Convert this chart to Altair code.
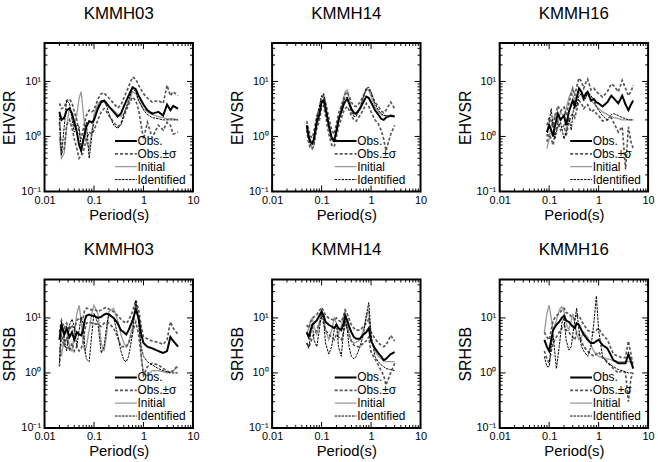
import altair as alt
import pandas as pd

SERIES = ["Obs.", "Obs.±σ", "Initial", "Identified"]
COLORS = ["#000000", "#555555", "#9a9a9a", "#000000"]
DASHES = [[1, 0], [3, 2], [1, 0], [2.5, 1]]
WIDTHS = [2.0, 1.0, 1.2, 2.6]

XMAJ = [0.01, 0.1, 1, 10]
XMIN = [0.02, 0.03, 0.04, 0.05, 0.06, 0.07, 0.08, 0.09,
        0.2, 0.3, 0.4, 0.5, 0.6, 0.7, 0.8, 0.9,
        2, 3, 4, 5, 6, 7, 8, 9]
YMAJ = [0.1, 1, 10]
YMIN = [0.2, 0.3, 0.4, 0.5, 0.6, 0.7, 0.8, 0.9,
        2, 3, 4, 5, 6, 7, 8, 9, 20, 30, 40]

# ---------------- KMMH03 EHVSR ----------------
p_03e = [0.02, 0.022, 0.025, 0.028, 0.032, 0.036, 0.04, 0.045, 0.05, 0.055,
         0.06, 0.07, 0.08, 0.09, 0.1, 0.12, 0.14, 0.16, 0.18, 0.2,
         0.25, 0.3, 0.35, 0.4, 0.5, 0.6, 0.7, 0.8, 1.0, 1.2,
         1.5, 2.0, 2.5, 3.0, 3.5, 4.0, 5.0]
obs_03e = [2.8, 2.0, 2.2, 3.0, 3.2, 2.6, 1.8, 1.2, 0.7, 0.55,
           0.8, 1.5, 1.9, 1.8, 2.0, 3.2, 4.2, 4.5, 4.0, 3.5,
           2.8, 2.3, 2.6, 3.5, 5.5, 7.8, 7.2, 5.5, 3.8, 3.0,
           2.6, 2.8, 2.4, 3.8, 3.0, 3.6, 3.2]
up_03e = [4.0, 3.2, 3.4, 4.5, 4.8, 4.0, 2.8, 2.0, 1.2, 0.9,
          1.3, 2.4, 3.0, 2.8, 3.0, 4.8, 6.0, 6.2, 5.5, 5.0,
          4.0, 3.3, 3.7, 5.0, 8.0, 12.0, 11.0, 8.5, 6.0, 5.0,
          4.2, 4.5, 4.0, 8.5, 5.5, 6.5, 5.5]
lo_03e = [1.8, 0.5, 0.6, 1.6, 2.0, 1.4, 0.9, 0.6, 0.4, 0.45,
          0.5, 0.9, 1.2, 1.1, 1.3, 2.0, 2.8, 3.2, 2.8, 2.4,
          1.8, 1.5, 1.7, 2.3, 3.8, 5.2, 4.5, 3.0, 0.9, 1.8,
          0.95, 1.6, 1.3, 1.8, 1.6, 1.1, 1.2]
ini_03e = [1.0, 0.4, 0.5, 1.5, 3.5, 2.5, 1.5, 2.5, 5.0, 6.5,
           3.0, 0.8, 0.6, 1.2, 2.5, 4.0, 4.5, 4.2, 3.8, 3.5,
           3.0, 2.5, 2.3, 2.6, 4.0, 6.5, 6.0, 4.5, 3.2, 2.8,
           2.5, 2.3, 2.2, 2.1, 2.1, 2.1, 2.0]
idf_03e = [2.5, 0.45, 1.5, 4.5, 4.0, 2.0, 1.2, 1.6, 1.5, 0.6,
           0.9, 1.8, 0.4, 1.0, 2.0, 3.5, 4.5, 4.5, 3.5, 2.6,
           1.6, 1.4, 1.6, 2.5, 4.5, 7.5, 6.5, 4.5, 3.0, 2.5,
           2.2, 2.1, 2.0, 2.0, 2.0, 2.0, 2.0]

# ---------------- KMMH14 EHVSR ----------------
p_14e = [0.05, 0.055, 0.06, 0.065, 0.07, 0.075, 0.08, 0.09, 0.1, 0.11,
         0.12, 0.14, 0.16, 0.18, 0.2, 0.22, 0.25, 0.28, 0.3, 0.33,
         0.36, 0.4, 0.45, 0.5, 0.6, 0.7, 0.8, 0.9, 1.0, 1.2,
         1.4, 1.6, 1.8, 2.0, 2.5, 3.0]
obs_14e = [1.6, 1.0, 0.8, 0.75, 0.9, 1.3, 1.8, 2.5, 4.2, 4.5,
           3.2, 1.6, 0.95, 0.85, 1.3, 2.0, 2.8, 3.8, 4.3, 4.8,
           4.0, 3.2, 2.7, 2.6, 3.2, 4.2, 5.3, 5.0, 4.2, 3.0,
           2.5, 2.1, 2.0, 2.2, 2.4, 2.3]
up_14e = [1.9, 1.3, 1.0, 0.95, 1.2, 1.7, 2.3, 3.2, 5.0, 5.6,
          4.2, 2.2, 1.3, 1.1, 1.7, 2.6, 3.6, 5.0, 5.8, 6.5,
          5.4, 4.2, 3.6, 3.5, 4.2, 5.5, 7.0, 7.2, 6.0, 4.2,
          3.5, 2.9, 2.7, 3.0, 4.2, 3.2]
lo_14e = [1.3, 0.75, 0.6, 0.6, 0.7, 1.0, 1.4, 1.9, 3.4, 3.6,
          2.4, 1.1, 0.7, 0.65, 1.0, 1.5, 2.1, 2.9, 3.2, 3.5,
          3.0, 2.4, 2.0, 1.9, 2.4, 3.1, 4.0, 3.5, 2.8, 2.0,
          1.7, 1.3, 0.9, 0.55, 1.1, 1.6]
ini_14e = [1.4, 1.0, 0.7, 0.6, 0.7, 1.1, 1.6, 2.4, 4.0, 5.0,
           3.8, 1.6, 0.9, 0.8, 1.1, 1.8, 3.0, 5.0, 6.5, 7.0,
           5.0, 3.2, 2.5, 2.5, 3.5, 5.5, 7.5, 7.0, 5.5, 3.5,
           2.8, 2.5, 2.4, 2.4, 2.3, 2.3]
idf_14e = [1.5, 0.9, 0.7, 0.7, 0.9, 1.4, 2.2, 3.5, 5.5, 6.0,
           4.0, 1.5, 0.85, 0.8, 1.2, 2.0, 3.2, 4.5, 5.0, 5.2,
           4.0, 2.8, 2.3, 2.3, 3.2, 5.0, 7.5, 7.8, 6.5, 4.0,
           3.0, 2.6, 2.4, 2.4, 2.3, 2.3]

# ---------------- KMMH16 EHVSR ----------------
p_16e = [0.09, 0.1, 0.11, 0.12, 0.13, 0.15, 0.17, 0.2, 0.22, 0.25,
         0.28, 0.3, 0.33, 0.36, 0.4, 0.45, 0.5, 0.55, 0.6, 0.7,
         0.8, 0.9, 1.0, 1.2, 1.5, 1.8, 2.0, 2.5, 3.0, 3.5,
         4.0, 4.5, 5.0]
obs_16e = [1.2, 1.6, 1.3, 1.0, 1.5, 2.6, 2.0, 2.4, 1.6, 2.8,
           3.8, 4.5, 3.5, 5.0, 7.5, 6.5, 5.0, 6.0, 6.5, 4.5,
           4.8, 4.2, 4.0, 3.5, 4.2, 5.5, 5.0, 4.0, 5.5, 3.8,
           3.0, 3.8, 4.5]
up_16e = [1.6, 2.2, 1.9, 1.5, 2.1, 3.6, 2.9, 3.4, 2.4, 4.0,
          6.0, 7.5, 5.5, 8.0, 11.5, 10.0, 7.5, 9.5, 11.0, 7.0,
          7.5, 6.5, 6.0, 5.2, 6.5, 9.0, 8.5, 6.5, 10.5, 7.5,
          5.5, 6.5, 8.5]
lo_16e = [0.8, 1.1, 0.9, 0.7, 1.0, 1.8, 1.3, 1.6, 1.0, 1.8,
          2.4, 2.6, 2.2, 3.0, 4.5, 4.0, 3.2, 3.6, 3.8, 2.8,
          3.0, 2.6, 2.4, 1.9, 2.0, 2.2, 1.8, 1.2, 1.5, 0.25,
          1.5, 0.8, 0.6]
ini_16e = [0.6, 0.9, 1.6, 2.0, 2.5, 1.8, 2.8, 2.2, 3.2, 5.0,
           6.5, 5.5, 4.8, 5.5, 6.5, 5.5, 4.5, 5.2, 6.0, 4.5,
           4.0, 3.5, 3.2, 2.8, 2.5, 2.3, 2.2, 2.1, 2.0, 2.0,
           2.0, 2.0, 2.0]
idf_16e = [1.0, 1.8, 3.2, 1.5, 0.9, 1.5, 1.8, 0.9, 1.2, 2.2,
           1.3, 2.5, 4.5, 3.5, 5.5, 6.0, 4.5, 5.0, 6.5, 5.5,
           4.5, 3.5, 3.0, 2.4, 2.0, 2.5, 2.6, 2.4, 2.2, 2.1,
           2.0, 2.0, 2.0]

# ---------------- KMMH03 SRHSB ----------------
p_03s = [0.02, 0.022, 0.025, 0.028, 0.032, 0.036, 0.04, 0.045, 0.05, 0.055,
         0.06, 0.065, 0.07, 0.08, 0.09, 0.1, 0.12, 0.14, 0.16, 0.18,
         0.2, 0.25, 0.3, 0.35, 0.4, 0.45, 0.5, 0.6, 0.7, 0.8,
         0.9, 1.0, 1.2, 1.5, 2.0, 2.5, 3.0, 3.5, 4.0, 5.0]
obs_03s = [4.0, 7.5, 5.0, 6.5, 4.5, 5.5, 4.0, 5.5, 5.0, 4.8,
           6.0, 9.0, 11.0, 11.5, 11.0, 11.0, 10.0, 10.5, 11.5, 12.0,
           11.5, 10.0, 8.0, 6.0, 5.5, 5.0, 6.0, 9.0, 14.0, 10.0,
           5.0, 3.5, 3.0, 2.8, 2.5, 2.3, 2.5, 4.5, 3.8, 3.0]
up_03s = [5.5, 9.0, 6.5, 8.0, 6.0, 7.5, 6.0, 9.0, 10.0, 9.0,
          10.0, 14.0, 15.0, 14.5, 14.0, 14.5, 13.0, 14.0, 15.0, 15.5,
          14.5, 13.0, 11.0, 9.5, 8.5, 8.0, 9.0, 13.0, 21.0, 14.0,
          7.0, 4.5, 4.2, 3.8, 3.6, 3.3, 4.0, 8.5, 6.5, 5.0]
lo_03s = [1.3, 5.0, 3.0, 4.5, 2.5, 3.5, 2.5, 3.0, 2.5, 2.8,
          3.5, 6.0, 8.0, 8.5, 8.0, 8.0, 7.5, 7.0, 8.0, 8.5,
          8.0, 6.5, 4.5, 3.0, 3.0, 3.0, 3.5, 5.5, 8.5, 5.0,
          2.0, 0.9, 1.3, 1.5, 1.4, 1.2, 1.1, 1.0, 1.1, 1.4]
ini_03s = [3.0, 2.0, 4.5, 6.0, 3.0, 2.5, 5.0, 12.0, 17.0, 9.0,
           3.5, 2.5, 3.0, 6.0, 12.0, 17.0, 12.0, 3.5, 2.5, 5.0,
           13.0, 15.0, 9.0, 5.0, 3.5, 3.0, 3.5, 7.0, 20.0, 9.0,
           2.0, 0.95, 0.9, 1.1, 1.1, 1.05, 1.0, 1.05, 1.1, 1.3]
idf_03s = [1.5, 8.5, 4.0, 2.5, 7.5, 9.5, 7.0, 3.0, 6.0, 10.5,
           8.0, 3.0, 1.8, 1.6, 5.0, 12.0, 8.0, 2.3, 3.0, 7.0,
           12.0, 10.0, 5.0, 2.5, 1.7, 1.6, 2.0, 5.0, 21.0, 8.0,
           3.0, 2.0, 1.6, 1.4, 1.2, 1.1, 1.05, 1.0, 1.0, 1.0]

# ---------------- KMMH14 SRHSB ----------------
p_14s = [0.05, 0.055, 0.06, 0.065, 0.07, 0.08, 0.09, 0.1, 0.11, 0.12,
         0.14, 0.16, 0.18, 0.2, 0.22, 0.25, 0.28, 0.3, 0.33, 0.36,
         0.4, 0.45, 0.5, 0.6, 0.7, 0.8, 0.9, 1.0, 1.2, 1.4,
         1.6, 1.8, 2.0, 2.5, 3.0]
obs_14s = [5.5, 4.5, 6.0, 7.5, 8.0, 9.0, 11.0, 13.0, 11.0, 8.5,
           7.5, 7.0, 6.5, 7.5, 6.5, 6.0, 8.0, 11.0, 9.0, 7.0,
           5.5, 4.5, 4.2, 4.2, 5.0, 5.5, 6.5, 3.8, 2.8, 2.3,
           2.0, 1.7, 1.8, 2.2, 2.4]
up_14s = [7.5, 6.5, 8.5, 9.5, 10.5, 11.5, 13.5, 15.5, 13.5, 11.0,
          10.0, 9.5, 9.0, 10.0, 9.0, 8.5, 11.0, 14.0, 12.0, 9.5,
          7.5, 6.5, 6.0, 6.0, 7.0, 8.0, 9.5, 5.5, 4.2, 3.5,
          3.2, 3.0, 3.2, 4.8, 3.8]
lo_14s = [3.5, 3.0, 3.5, 4.5, 5.0, 6.0, 8.0, 10.0, 8.0, 6.0,
          5.0, 4.5, 4.0, 5.0, 4.5, 4.0, 5.5, 8.0, 6.5, 5.0,
          3.8, 3.2, 3.0, 3.0, 3.5, 3.8, 4.5, 2.4, 1.8, 1.4,
          1.1, 0.9, 0.6, 1.0, 1.5]
ini_14s = [5.0, 6.5, 9.0, 10.0, 7.0, 5.0, 8.0, 14.0, 11.0, 6.0,
           4.0, 6.0, 10.0, 8.0, 5.0, 7.0, 11.0, 13.5, 8.0, 5.0,
           3.8, 3.5, 3.6, 4.0, 6.0, 10.0, 14.0, 4.0, 2.5, 2.0,
           1.8, 1.7, 1.6, 1.6, 1.6]
idf_14s = [3.5, 2.8, 5.0, 8.0, 4.0, 3.0, 6.0, 12.0, 9.0, 3.5,
           2.2, 3.0, 6.0, 8.0, 3.0, 2.0, 6.0, 10.5, 6.0, 3.0,
           2.0, 1.8, 2.0, 3.0, 5.0, 11.0, 19.0, 5.0, 2.0, 1.6,
           1.4, 1.3, 1.2, 1.15, 1.1]

# ---------------- KMMH16 SRHSB ----------------
p_16s = [0.08, 0.09, 0.1, 0.11, 0.12, 0.14, 0.16, 0.18, 0.2, 0.22,
         0.25, 0.28, 0.3, 0.33, 0.36, 0.4, 0.45, 0.5, 0.6, 0.7,
         0.8, 0.9, 1.0, 1.2, 1.5, 2.0, 2.5, 3.0, 3.5, 4.0,
         4.5, 5.0]
obs_16s = [4.0, 3.0, 2.5, 4.0, 6.0, 7.5, 8.5, 10.0, 11.0, 9.0,
           8.5, 7.5, 7.0, 6.5, 8.0, 7.5, 6.0, 5.0, 4.0, 3.5,
           3.5, 3.8, 4.0, 3.2, 2.8, 1.7, 1.5, 1.5, 1.5, 2.2,
           1.6, 1.2]
up_16s = [5.5, 4.5, 4.0, 6.0, 9.0, 11.0, 12.0, 14.0, 15.0, 12.5,
          12.0, 10.5, 10.0, 9.5, 11.0, 11.0, 9.0, 7.5, 6.0, 5.5,
          5.5, 6.0, 6.5, 5.0, 4.0, 2.2, 2.0, 1.9, 1.9, 3.8,
          2.2, 1.3]
lo_16s = [2.5, 1.8, 1.5, 2.5, 3.5, 4.5, 5.5, 6.5, 7.5, 6.0,
          5.5, 4.8, 4.5, 4.0, 5.5, 5.0, 3.8, 3.0, 2.5, 2.2,
          2.0, 2.2, 2.4, 1.9, 1.6, 1.2, 1.0, 1.1, 1.0, 0.3,
          0.8, 1.0]
ini_16s = [5.5, 12.0, 17.0, 10.0, 6.0, 9.0, 14.0, 16.0, 13.0, 8.0,
           6.0, 9.0, 12.0, 8.0, 5.0, 4.0, 4.5, 5.5, 4.5, 3.2,
           2.5, 2.2, 2.0, 1.9, 1.8, 1.7, 1.6, 1.6, 1.6, 1.6,
           1.6, 1.6]
idf_16s = [2.0, 1.3, 1.3, 3.0, 5.0, 1.2, 3.0, 8.0, 10.0, 4.0,
           2.6, 3.0, 5.0, 9.0, 15.0, 6.0, 3.0, 2.5, 2.0, 3.0,
           8.0, 25.0, 6.0, 2.0, 1.5, 1.3, 1.15, 1.1, 1.05, 1.0,
           1.0, 1.0]


def long_df(p, obs, up, lo, ini, idf):
    rows = []
    for arr, s, b in [(ini, "Initial", "a"), (up, "Obs.±σ", "up"),
                      (lo, "Obs.±σ", "lo"), (idf, "Identified", "a"),
                      (obs, "Obs.", "a")]:
        for t, v in zip(p, arr):
            rows.append({"period": t, "value": v, "series": s, "branch": b})
    return pd.DataFrame(rows)


YLAB_EXPR = "datum.value == 0.1 ? '10\u207b\u00b9' : (datum.value == 1 ? '10\u2070' : '10\u00b9')"
W = 150
H = 150
XS = alt.Scale(type="log", domain=[0.01, 10])
YS = alt.Scale(type="log", domain=[0.1, 50])
XAXIS = alt.Axis(orient="bottom", values=XMAJ, format=".2~f",
                 title="Period(s)", ticks=False, tickSize=0,
                 domain=False, labelPadding=3, titlePadding=2,
                 labelFlush=False, labelOverlap=False, titleFontSize=15)


def yaxis(title):
    return alt.Axis(orient="left", values=YMAJ, labelExpr=YLAB_EXPR,
                    title=title, ticks=False, tickSize=0, domain=False,
                    labelPadding=4, titlePadding=3, labelFlush=False,
                    labelOverlap=False, titleFontSize=16)


def tick_layer(vals, ch, side, length, yax):
    d = pd.DataFrame({"t": vals})
    if ch == "x":
        enc = dict(x=alt.X("t:Q", scale=XS, axis=XAXIS))
        if side == "bottom":
            enc.update(y=alt.value(H), y2=alt.value(H - length))
        else:
            enc.update(y=alt.value(0), y2=alt.value(length))
    else:
        enc = dict(y=alt.Y("t:Q", scale=YS, axis=yax))
        if side == "left":
            enc.update(x=alt.value(0), x2=alt.value(length))
        else:
            enc.update(x=alt.value(W), x2=alt.value(W - length))
    return alt.Chart(d).mark_rule(color="black", strokeWidth=1).encode(**enc)


def panel(df, title, ylab, lx, toff):
    yax = yaxis(ylab)
    leg = alt.Legend(title=None, orient="none", legendX=lx, legendY=93)
    lines = alt.Chart(df).mark_line(clip=True).encode(
        x=alt.X("period:Q", scale=XS, axis=XAXIS),
        y=alt.Y("value:Q", scale=YS, axis=yax),
        color=alt.Color("series:N", scale=alt.Scale(domain=SERIES, range=COLORS), legend=leg),
        strokeDash=alt.StrokeDash("series:N", scale=alt.Scale(domain=SERIES, range=DASHES), legend=leg),
        strokeWidth=alt.StrokeWidth("series:N", scale=alt.Scale(domain=SERIES, range=WIDTHS), legend=leg),
        detail="branch:N",
    )
    layers = [lines]
    for side in ["bottom", "top"]:
        layers.append(tick_layer(XMAJ, "x", side, 6, yax))
        layers.append(tick_layer(XMIN, "x", side, 3, yax))
    for side in ["left", "right"]:
        layers.append(tick_layer(YMAJ, "y", side, 6, yax))
        layers.append(tick_layer(YMIN, "y", side, 3, yax))
    return alt.layer(*layers).properties(
        width=W, height=H, title=alt.TitleParams(title, offset=toff)
    )


panels = [
    panel(long_df(p_03e, obs_03e, up_03e, lo_03e, ini_03e, idf_03e), "KMMH03", "EHVSR", 81, 20),
    panel(long_df(p_14e, obs_14e, up_14e, lo_14e, ini_14e, idf_14e), "KMMH14", "EHVSR", 73, 20),
    panel(long_df(p_16e, obs_16e, up_16e, lo_16e, ini_16e, idf_16e), "KMMH16", "EHVSR", 81, 20),
    panel(long_df(p_03s, obs_03s, up_03s, lo_03s, ini_03s, idf_03s), "KMMH03", "SRHSB", 81, 20),
    panel(long_df(p_14s, obs_14s, up_14s, lo_14s, ini_14s, idf_14s), "KMMH14", "SRHSB", 73, 20),
    panel(long_df(p_16s, obs_16s, up_16s, lo_16s, ini_16s, idf_16s), "KMMH16", "SRHSB", 81, 20),
]

FONT = "Liberation Sans"

chart = alt.concat(
    *panels, columns=3, spacing={"row": 89, "column": 80}, bounds="flush"
).resolve_scale(
    color="independent", strokeDash="independent", strokeWidth="independent"
).properties(
    padding={"left": 1, "top": 1, "right": 2, "bottom": 2}, background="white"
).configure_view(
    stroke="black", strokeWidth=2
).configure_axis(
    grid=False, labelFont=FONT, labelFontSize=11, labelColor="black",
    titleFont=FONT, titleFontWeight="normal", titleColor="black"
).configure_title(
    font=FONT, fontSize=17, fontWeight="normal", color="black",
    anchor="middle", frame="group"
).configure_legend(
    labelFont=FONT, labelFontSize=12, labelColor="black",
    symbolType="M-3.5,0H1.4", symbolSize=81, labelOffset=1,
    rowPadding=1, padding=0, symbolOffset=0, symbolFillColor="transparent"
)

chart.save("out.html", embed_options={"renderer": "svg", "actions": False})
